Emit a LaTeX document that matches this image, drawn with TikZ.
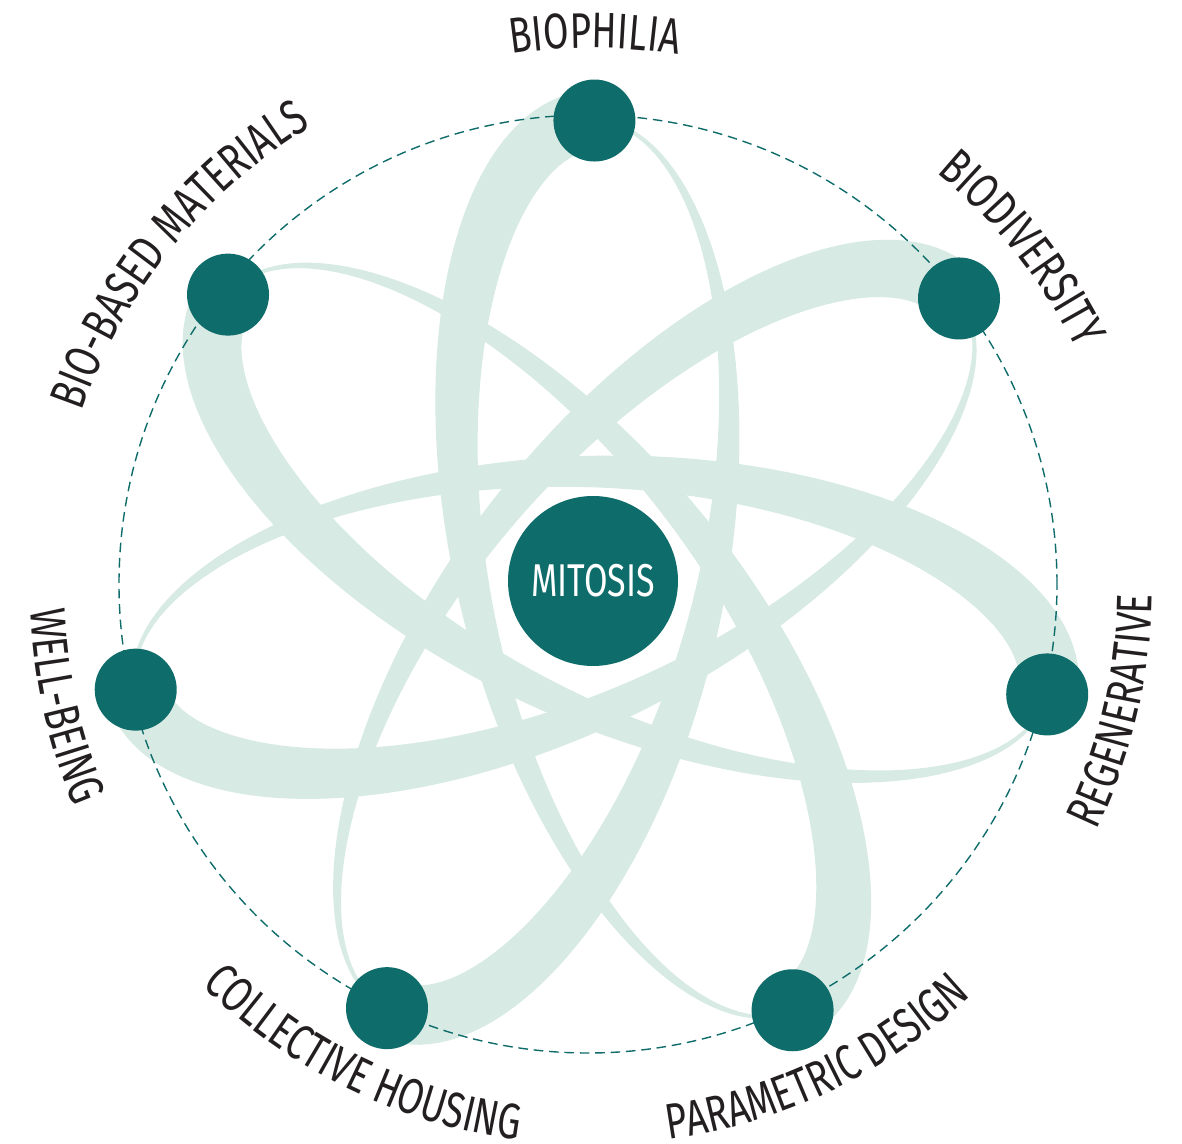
\documentclass[tikz,border=0pt]{standalone}
\usepackage{fontspec}
\newfontfamily\ringfont[FakeStretch=0.74]{Fira Sans}
\usetikzlibrary{decorations.text}
\definecolor{petrol}{RGB}{14,108,106}
\definecolor{mint}{RGB}{215,234,227}
\definecolor{ink}{RGB}{35,31,32}
\newcommand\ringtext{\ringfont\fontsize{25}{28}\selectfont}
\newcommand\coretext{\ringfont\fontsize{23}{26}\selectfont}

\begin{document}
\begin{tikzpicture}[x=0.5pt,y=0.5pt,
    declare function={
      orbx(\t)=292*cos(4*\t)+175.5*cos(3*\t);
      orby(\t)=-292*sin(4*\t)+175.5*sin(3*\t);
      orbu(\t)=-11.68*sin(4*\t)-5.265*sin(3*\t);
      orbv(\t)=-11.68*cos(4*\t)+5.265*cos(3*\t);
      orbn(\t)=sqrt(orbu(\t)*orbu(\t)+orbv(\t)*orbv(\t));
      halfw(\t)=1.5+28.5*(\t/51.4286)*(\t/51.4286)*(3-2*\t/51.4286);
    },
    orbit/.style={fill=mint},
    ele/.style={fill=petrol,circle,minimum size=41pt,inner sep=0pt},
    core/.style={fill=petrol,circle,minimum size=85pt,inner sep=0pt,text=white,font=\coretext},
    ring/.style={petrol,line width=0.7pt,dash pattern=on 4.8pt off 2.9pt},
    tag/.style={decorate,decoration={text along path,text align=center,text={|\color{ink}\ringtext|#1}}},
    % one sweep of the rosette: thin where it leaves a node, thick where it arrives
    pics/swoosh/.style={code={
      \fill[orbit] plot[domain=0:51.4286,samples=90,variable=\t]
          ({orbx(\t)-halfw(\t)*orbv(\t)/orbn(\t)},{orby(\t)+halfw(\t)*orbu(\t)/orbn(\t)})
        -- plot[domain=51.4286:0,samples=90,variable=\t]
          ({orbx(\t)+halfw(\t)*orbv(\t)/orbn(\t)},{orby(\t)-halfw(\t)*orbu(\t)/orbn(\t)})
        -- cycle;
    }}]
\useasboundingbox (-592,-556) rectangle (590,588);

\pic[rotate=89.7] {swoosh};
\pic[rotate=38.27] {swoosh};
\pic[rotate=-13.16] {swoosh};
\pic[rotate=-64.59] {swoosh};
\pic[rotate=-116.01] {swoosh};
\pic[rotate=-167.44] {swoosh};
\pic[rotate=141.13] {swoosh};

\draw[ring] (-4,4) circle [radius=469];

\node[ele] (biophilia) at (89.7:467.5) {};
\node[ele] (biodiversity) at (38.27:467.5) {};
\node[ele] (regenerative) at (-13.16:467.5) {};
\node[ele] (parametric) at (-64.59:467.5) {};
\node[ele] (collective) at (-116.01:467.5) {};
\node[ele] (wellbeing) at (-167.44:467.5) {};
\node[ele] (biobased) at (141.13:467.5) {};
\node[core] (mitosis) at (1,7) {MITOSIS};

% labels run along the ring
\path[tag=BIOPHILIA] (139.7:540) arc [start angle=139.7,end angle=39.7,radius=540];
\path[tag=BIODIVERSITY] (88.27:540) arc [start angle=88.27,end angle=-11.73,radius=540];
\path[tag=BIO-BASED MATERIALS] (191.13:540) arc [start angle=191.13,end angle=91.13,radius=540];
\path[tag=REGENERATIVE] (-63.16:560) arc [start angle=-63.16,end angle=36.84,radius=560];
\path[tag=PARAMETRIC DESIGN] (-114.59:557) arc [start angle=-114.59,end angle=-14.59,radius=557];
\path[tag=COLLECTIVE HOUSING] (-166.01:557) arc [start angle=-166.01,end angle=-66.01,radius=557];
\path[tag=WELL-BEING] (-217.44:562) arc [start angle=-217.44,end angle=-117.44,radius=562];
\end{tikzpicture}
\end{document}
